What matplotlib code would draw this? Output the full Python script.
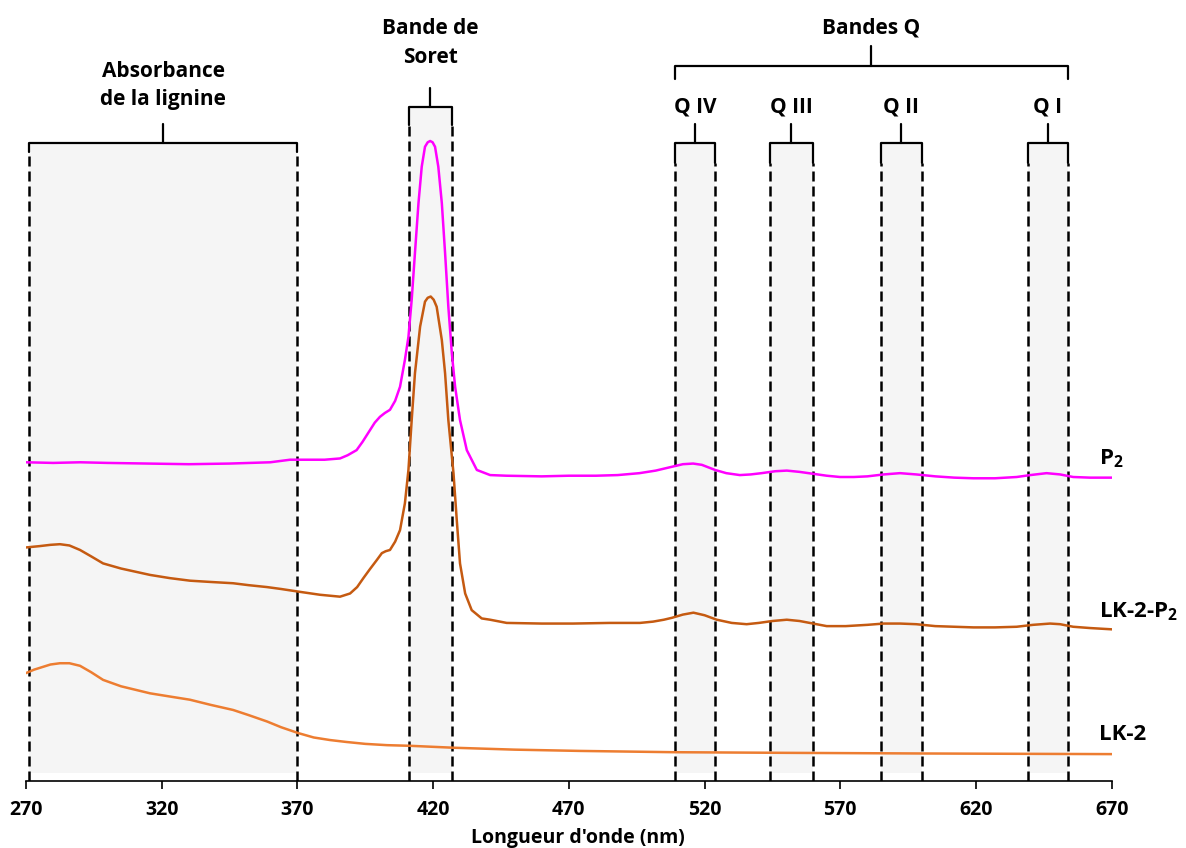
import numpy as np
import matplotlib
matplotlib.use("Agg")
import matplotlib.pyplot as plt

plt.rcParams['font.family'] = ['Open Sans', 'DejaVu Sans']
plt.rcParams['font.weight'] = 'bold'
plt.rcParams['mathtext.fontset'] = 'custom'
plt.rcParams['mathtext.bf'] = 'Open Sans:bold'
plt.rcParams['mathtext.rm'] = 'Open Sans:bold'

# spectra (normalised absorbance, curves stacked with an offset)
wl_p2 = [270, 280, 290, 300, 315, 330, 345, 360, 367.3, 375, 380, 385.7, 388.5, 391.8,
         394, 396.7, 398.5, 400.4, 402.2, 404.1, 406, 407.8, 409.6, 410.9, 412.1, 413.3,
         414.6, 415.8, 417.0, 418.0, 418.9, 419.8, 420.7, 421.9, 423.2, 424.4, 425.6,
         426.9, 428.1, 429.9, 432.4, 436.1, 441.0, 447, 460, 470, 480, 488, 496, 502,
         508, 512, 515.8, 519, 523.9, 528, 533, 537, 541, 546, 550.3, 555, 560, 565,
         569.9, 575, 580, 586, 592, 598, 605, 612, 619, 627, 635, 640, 646, 651, 655.8,
         662, 670]
abs_p2 = [0.498, 0.497, 0.498, 0.497, 0.496, 0.495, 0.496, 0.498, 0.502, 0.502, 0.502,
          0.504, 0.509, 0.517, 0.530, 0.548, 0.560, 0.569, 0.575, 0.580, 0.594, 0.616,
          0.658, 0.694, 0.752, 0.825, 0.903, 0.960, 0.991, 0.998, 1.000, 0.998, 0.991,
          0.960, 0.903, 0.825, 0.741, 0.668, 0.616, 0.564, 0.517, 0.486, 0.478, 0.477,
          0.476, 0.477, 0.477, 0.478, 0.481, 0.485, 0.491, 0.495, 0.496, 0.494, 0.486,
          0.481, 0.478, 0.479, 0.481, 0.484, 0.485, 0.483, 0.480, 0.477, 0.475, 0.475,
          0.476, 0.479, 0.481, 0.479, 0.476, 0.474, 0.473, 0.473, 0.475, 0.478, 0.481,
          0.479, 0.475, 0.474, 0.474]

wl_lkp2 = [270.2, 275, 279, 282.5, 286, 289.9, 294, 298.4, 305, 315.7, 323, 330.4, 338,
           346.3, 352, 358.8, 364, 370.2, 378.3, 385.7, 389.4, 392, 394.3, 396.7, 399.2,
           401.1, 402.5, 404.1, 406, 407.8, 409.6, 410.9, 412.1, 413.3, 415.2, 417.0,
           418.0, 419.1, 420.2, 421.3, 423.2, 424.4, 425.6, 427.5, 428.7, 429.9, 431.8,
           434.2, 437.9, 441.0, 447.1, 460, 471.5, 485, 496.2, 501, 505, 508, 512, 515.9,
           520, 524.5, 530, 535.5, 540, 545, 550.3, 555, 560, 565, 572, 580, 586, 592,
           598, 605, 612, 619.1, 627, 635, 641, 647.3, 651, 655.8, 662, 670]
abs_lkp2 = [0.365, 0.367, 0.369, 0.370, 0.368, 0.361, 0.351, 0.340, 0.332, 0.322, 0.317,
            0.313, 0.311, 0.309, 0.306, 0.303, 0.300, 0.296, 0.291, 0.288, 0.293, 0.303,
            0.317, 0.331, 0.345, 0.356, 0.359, 0.361, 0.374, 0.392, 0.434, 0.486, 0.564,
            0.637, 0.710, 0.749, 0.755, 0.757, 0.752, 0.741, 0.689, 0.637, 0.564, 0.481,
            0.408, 0.340, 0.293, 0.267, 0.254, 0.252, 0.247, 0.246, 0.246, 0.247, 0.247,
            0.249, 0.252, 0.255, 0.260, 0.263, 0.259, 0.252, 0.247, 0.245, 0.247, 0.250,
            0.252, 0.250, 0.246, 0.242, 0.242, 0.244, 0.246, 0.246, 0.245, 0.242, 0.241,
            0.240, 0.240, 0.241, 0.244, 0.246, 0.245, 0.241, 0.239, 0.237]

wl_lk2 = [270.2, 273, 276, 279, 282.5, 286, 289.9, 294, 298.4, 305, 315.7, 323, 330.4,
          338, 346.3, 352, 358.8, 364, 370.2, 376, 382, 388, 395, 403, 411.5, 427.4,
          450, 474.1, 508.5, 550, 600, 670]
abs_lk2 = [0.169, 0.174, 0.178, 0.182, 0.184, 0.184, 0.180, 0.170, 0.158, 0.148, 0.137,
           0.132, 0.127, 0.119, 0.111, 0.103, 0.093, 0.084, 0.075, 0.068, 0.064, 0.061,
           0.058, 0.056, 0.055, 0.052, 0.049, 0.047, 0.045, 0.044, 0.043, 0.042]

series_names = ['P$_\\mathbf{2}$', 'LK-2-P$_\\mathbf{2}$', 'LK-2']
series_colors = ['#FF00FF', '#C55A11', '#ED7D31']

# spectral regions (nm)
band_labels = ['Absorbance\nde la lignine', 'Bande de\nSoret', 'Q IV', 'Q III', 'Q II', 'Q I']
band_lo = [271, 411, 509, 544, 585, 639]
band_hi = [370, 427, 524, 560, 600, 654]
band_top = [0.997, 1.053, 0.997, 0.997, 0.997, 0.997]
band_drop = [0.014, 0.028, 0.031, 0.031, 0.031, 0.031]
band_text_y = [1.087, 1.153, 1.053, 1.053, 1.053, 1.053]

W, H = 1186, 848
fig = plt.figure(figsize=(W / 100, H / 100), dpi=100)
ax = fig.add_axes([26 / W, (H - 781) / H, (1111.7 - 26) / W, 781 / H])
ax.set_xlim(270, 670)
ax.set_ylim(0, 781 / 640)

bk = dict(color='black', lw=1.6, solid_capstyle='round', solid_joinstyle='round')
for lab, lo, hi, top, drop, ty in zip(band_labels, band_lo, band_hi, band_top,
                                       band_drop, band_text_y):
    ax.fill_between([lo, hi], 0.0125, top, color='#F5F5F5', lw=0, zorder=0)
    for xv in (lo, hi):
        ax.plot([xv, xv], [0, top - drop], color='black', lw=1.8,
                linestyle=(0, (4, 2)), zorder=3)
    ax.plot([lo, lo, hi, hi], [top - drop, top, top, top - drop], **bk)
    xm = (lo + hi) / 2
    ax.plot([xm, xm], [top, top + 0.03], **bk)
    ax.text(xm, ty, lab, ha='center', va='center', fontsize=15, linespacing=1.45)

# Bandes Q bracket
qlo, qhi = band_lo[2], band_hi[-1]
ax.plot([qlo, qlo, qhi, qhi], [1.097, 1.117, 1.117, 1.097], **bk)
qm = (qlo + qhi) / 2
ax.plot([qm, qm], [1.117, 1.148], **bk)
ax.text(qm, 1.176, 'Bandes Q', ha='center', va='center', fontsize=15)

curves = [(wl_p2, abs_p2), (wl_lkp2, abs_lkp2), (wl_lk2, abs_lk2)]
label_y = [0.503, 0.265, 0.073]
for (wl, ab), name, col, ly in zip(curves, series_names, series_colors, label_y):
    ax.plot(wl, ab, color=col, lw=1.8, zorder=4)
    ax.text(665.5, ly, name, ha='left', va='center', fontsize=16, clip_on=False)

for s in ['left', 'top', 'right']:
    ax.spines[s].set_visible(False)
ax.spines['bottom'].set_linewidth(1.2)
ax.set_yticks([])
ax.set_xticks(np.arange(270, 671, 50))
ax.tick_params(axis='x', direction='out', length=6, width=1.2, labelsize=14, pad=8)
for t in ax.get_xticklabels():
    t.set_fontweight('bold')

fig.text(578 / W, 1 - 838 / H, "Longueur d'onde (nm)", ha='center', va='center',
         fontsize=14)

fig.savefig('out.png', dpi=100)
